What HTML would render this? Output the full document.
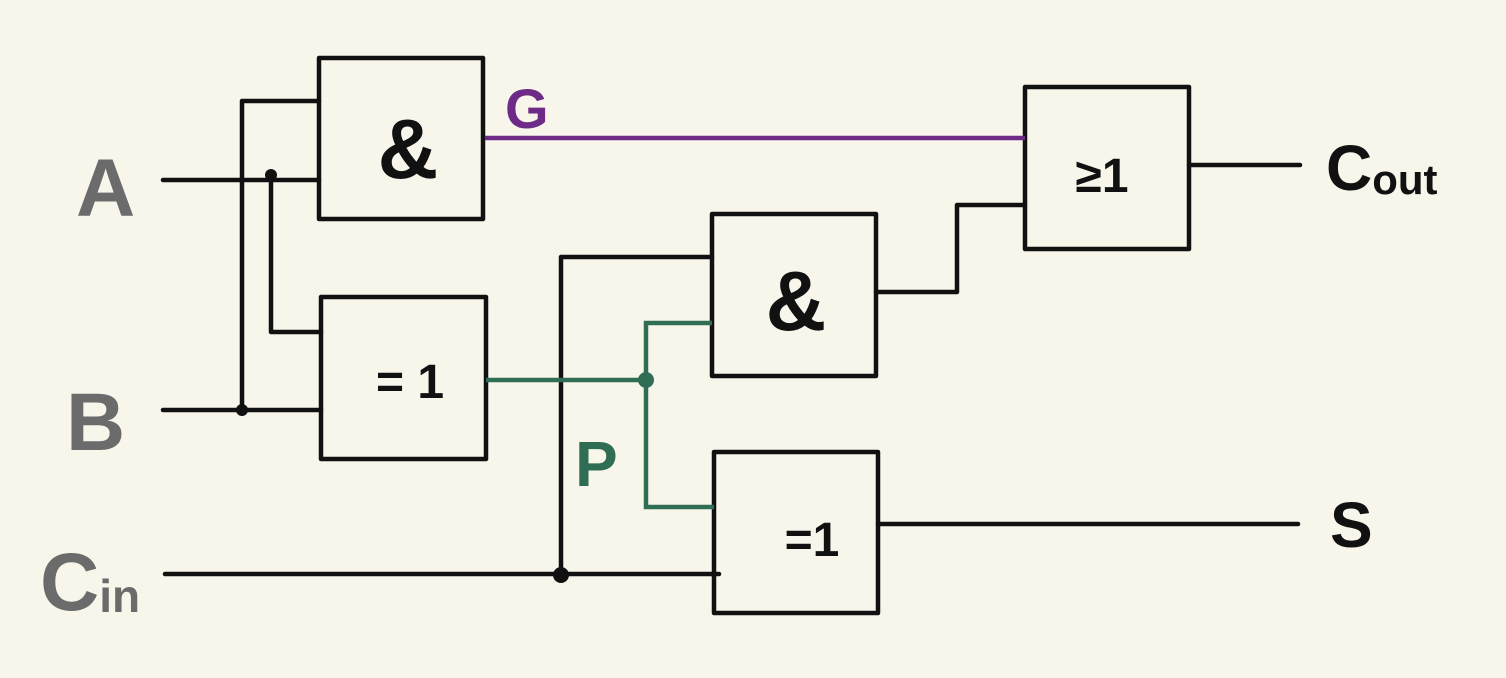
<!DOCTYPE html>
<html><head><meta charset="utf-8"><style>
html,body{margin:0;padding:0;background:#f8f6eb;}
svg{display:block}
text{font-family:"Liberation Sans",sans-serif;}
</style></head><body>
<svg width="1506" height="678" viewBox="0 0 1506 678" xmlns="http://www.w3.org/2000/svg">
<rect width="1506" height="678" fill="#f8f6eb"/>
<g fill="none" stroke="#111" stroke-width="4.5" stroke-linejoin="round" stroke-linecap="round">
<rect x="319" y="58" width="164" height="161"/>
<rect x="321" y="297" width="165" height="162"/>
<rect x="712" y="214" width="164" height="162"/>
<rect x="714" y="452" width="164" height="161"/>
<rect x="1025" y="87" width="164" height="162"/>
<polyline points="163,180 319,180"/>
<polyline points="163,410 321,410"/>
<polyline points="242,410 242,101 319,101"/>
<polyline points="271,175 271,332 321,332"/>
<polyline points="165,574 719,574"/>
<polyline points="561,575 561,257 712,257"/>
<polyline points="876,292 957,292 957,205 1025,205"/>
<polyline points="1189,165 1300,165"/>
<polyline points="878,524 1298,524"/>
</g>
<polyline points="485,138 1025,138" fill="none" stroke="#6d2b87" stroke-width="4.5"/>
<g fill="none" stroke="#2f6e55" stroke-width="4.5">
<polyline points="486,380 646,380"/>
<polyline points="712,323 646,323 646,507 714,507"/>
</g>
<g fill="#111">
<circle cx="271" cy="175" r="6"/>
<circle cx="242" cy="410" r="6"/>
<circle cx="561" cy="575" r="8"/>
</g>
<circle cx="646" cy="380" r="8" fill="#2f6e55"/>
<g font-size="84" fill="#111" text-anchor="middle" font-weight="bold">
<text x="408" y="178">&amp;</text>
<text x="796" y="330">&amp;</text>
</g>
<g font-size="48" fill="#111" text-anchor="middle" font-weight="bold">
<text x="410" y="398">= 1</text>
<text x="812" y="556">=1</text>
<text x="1102" y="192">≥1</text>
</g>
<g fill="#6b6b6b" font-size="82" font-weight="bold">
<text x="76" y="216">A</text>
<text x="66" y="450">B</text>
<text x="40" y="610">C<tspan font-size="46" dy="2">in</tspan></text>
</g>
<g fill="#111" font-weight="bold">
<text x="1326" y="190" font-size="64">C<tspan font-size="42" dy="4">out</tspan></text>
<text x="1330" y="547" font-size="64">S</text>
</g>
<text x="505" y="128" font-size="56" fill="#6d2b87" font-weight="bold">G</text>
<text x="575" y="486" font-size="64" fill="#2f6e55" font-weight="bold">P</text>
</svg>
</body></html>
